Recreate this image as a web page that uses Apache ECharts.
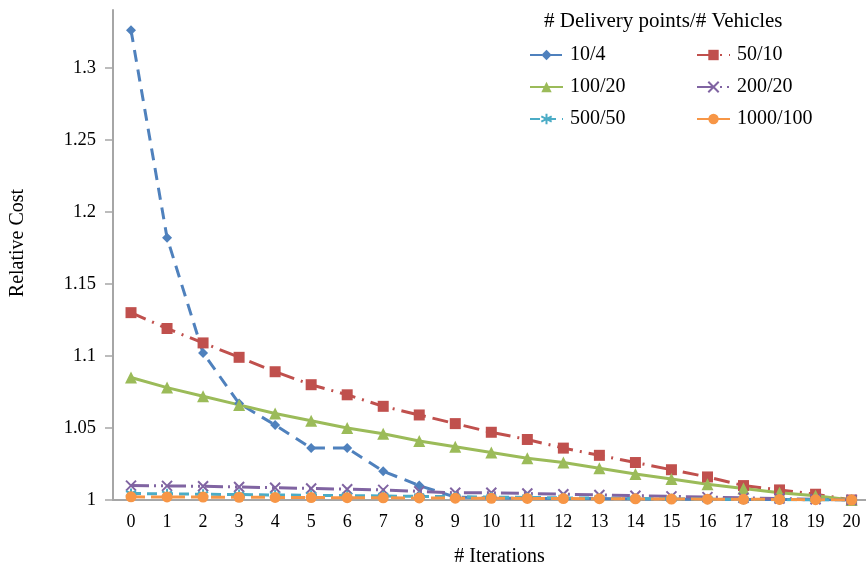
<!DOCTYPE html>
<html><head><meta charset="utf-8">
<script src="https://cdn.jsdelivr.net/npm/echarts@6/dist/echarts.min.js"></script>
<style>html,body{margin:0;padding:0;background:#fff}#c{width:866px;height:568px}</style>
</head><body><div id="c"></div>
<script>
const iterations = [0,1,2,3,4,5,6,7,8,9,10,11,12,13,14,15,16,17,18,19,20];
const yTicks = [1,1.05,1.1,1.15,1.2,1.25,1.3];
const s10_4 = [1.326,1.182,1.102,1.067,1.052,1.036,1.036,1.020,1.010,1.002,1.0015,1.001,1.001,1.001,1.0008,1.0006,1.0005,1.0004,1.0003,1.0002,1.000];
const s50_10 = [1.130,1.119,1.109,1.099,1.089,1.080,1.073,1.065,1.059,1.053,1.047,1.042,1.036,1.031,1.026,1.021,1.016,1.010,1.007,1.004,1.000];
const s100_20 = [1.085,1.078,1.072,1.066,1.060,1.055,1.050,1.046,1.041,1.037,1.033,1.029,1.026,1.022,1.018,1.0145,1.011,1.008,1.005,1.003,1.000];
const s200_20 = [1.010,1.0098,1.0095,1.009,1.0085,1.008,1.0075,1.007,1.006,1.005,1.005,1.0045,1.004,1.0035,1.003,1.0025,1.002,1.0015,1.001,1.0005,1.000];
const s500_50 = [1.0045,1.0043,1.004,1.0038,1.0035,1.0033,1.003,1.0028,1.0025,1.0023,1.002,1.0018,1.0015,1.0013,1.001,1.0008,1.0006,1.0004,1.0002,1.0001,1.000];
const s1000_100 = [1.0022,1.0021,1.002,1.0019,1.0018,1.0017,1.0016,1.0015,1.0014,1.0013,1.0012,1.0011,1.001,1.0009,1.0008,1.0007,1.0006,1.0005,1.0004,1.0002,1.000];

const FONT = 'Liberation Serif';
function pts(arr){ return arr.map((v,i)=>[iterations[i], v]); }
const xPath = 'path://M-7,-7 L7,7 M-7,7 L7,-7';
const starPath = 'path://M0,-8 L0,8 M-7,-4 L7,4 M-7,4 L7,-4';

const series = [
  {name:'10/4', data:pts(s10_4), color:'#4F81BD', symbol:'diamond', symbolSize:10, lineType:[12,8]},
  {name:'50/10', data:pts(s50_10), color:'#C0504D', symbol:'rect', symbolSize:11, lineType:[16,7,2,7]},
  {name:'100/20', data:pts(s100_20), color:'#9BBB59', symbol:'triangle', symbolSize:12, lineType:'solid'},
  {name:'200/20', data:pts(s200_20), color:'#8064A2', symbol:xPath, symbolSize:10, lineType:[18,5,2,5,2,5], border:true},
  {name:'500/50', data:pts(s500_50), color:'#4BACC6', symbol:starPath, symbolSize:10, lineType:[10,6], border:true},
  {name:'1000/100', data:pts(s1000_100), color:'#F79646', symbol:'circle', symbolSize:11, lineType:[14,6]}
].map(s=>({
  name:s.name, type:'line', data:s.data, symbol:s.symbol, symbolSize:s.symbolSize,
  showAllSymbol:true,
  lineStyle:{color:s.color, width:3, type:s.lineType},
  itemStyle:{color:s.color, borderColor:s.color, borderWidth:s.border?2:0},
  emphasis:{disabled:true}, animation:false
}));

const legendCommon = {orient:'vertical', itemWidth:33, itemHeight:13, itemGap:12,
  textStyle:{fontFamily:FONT, fontSize:20, color:'#000', padding:[0,0,0,2]}};

const chart = echarts.init(document.getElementById('c'));
chart.setOption({
  animation:false,
  title:{text:'# Delivery points/# Vehicles', left:539, top:6,
    textStyle:{fontFamily:FONT, fontSize:21, fontWeight:'normal', color:'#000'}},
  legend:[
    Object.assign({}, legendCommon, {data:['10/4','100/20','500/50'], left:524, top:40}),
    Object.assign({}, legendCommon, {data:['50/10','200/20','1000/100'], left:691, top:40})
  ],
  grid:{left:113, top:10, right:0, bottom:68, containLabel:false, outerBoundsMode:'none'},
  xAxis:{type:'value', min:-0.5, max:20.4, name:'# Iterations', nameLocation:'middle', nameGap:47,
    nameTextStyle:{fontFamily:FONT, fontSize:20, color:'#000', padding:[0,0,0,20]},
    axisLine:{show:true, onZero:false, lineStyle:{color:'#A6A6A6', width:2}},
    axisTick:{show:false},
    splitLine:{show:false},
    axisLabel:{customValues:iterations, fontFamily:FONT, fontSize:18, color:'#000', margin:13}
  },
  yAxis:{type:'value', min:1, max:1.34, name:'Relative Cost', nameLocation:'middle', nameGap:85,
    nameTextStyle:{fontFamily:FONT, fontSize:20, color:'#000', padding:[0,0,0,24]},
    axisLine:{show:true, onZero:false, lineStyle:{color:'#A6A6A6', width:2}},
    axisTick:{show:true, customValues:yTicks, length:8, lineStyle:{color:'#A6A6A6', width:1.5}},
    splitLine:{show:false},
    axisLabel:{customValues:yTicks, fontFamily:FONT, fontSize:18.5, color:'#000', margin:17, padding:[5,0,0,0]}
  },
  series:series
});
</script></body></html>
